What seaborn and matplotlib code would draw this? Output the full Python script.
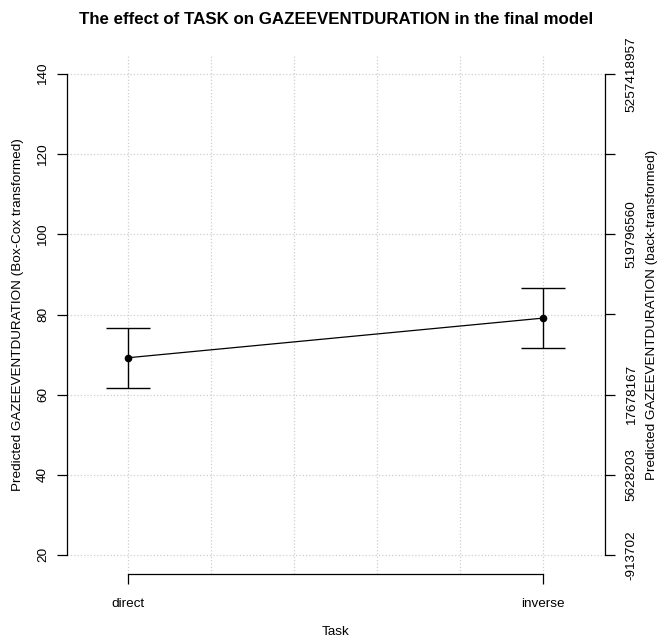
import numpy as np
import pandas as pd
import matplotlib
matplotlib.use("Agg")
import matplotlib.pyplot as plt
import seaborn as sns

# data
tasks = ["direct", "inverse"]
task_pos = [1, 2]
fit = [69.2, 79.1]
lower = [61.7, 71.6]
upper = [76.7, 86.5]

left_ticks = [20, 40, 60, 80, 100, 120, 140]
right_labels = ["-913702", "5628203", "17678167", "", "519796560", "", "5257418957"]

sns.set_style("ticks")
plt.rcParams["font.family"] = ["Liberation Sans", "DejaVu Sans"]
plt.rcParams["text.color"] = "black"
plt.rcParams["axes.labelcolor"] = "black"
plt.rcParams["xtick.labelcolor"] = "black"
plt.rcParams["ytick.labelcolor"] = "black"

df = pd.DataFrame({"pos": task_pos, "fit": fit, "lo": lower, "hi": upper})

fig = plt.figure(figsize=(6.63, 6.40), dpi=100)
ax = fig.add_axes([67 / 663, 1 - 574 / 640, (605 - 67) / 663, (574 - 55) / 640])

# grid (dotted, like R's grid())
ax.set_xticks(np.arange(1, 2.01, 0.2), minor=True)
ax.grid(True, which="both", axis="x", linestyle=":", color="#cfcfcf", linewidth=0.9)
ax.grid(True, which="major", axis="y", linestyle=":", color="#cfcfcf", linewidth=0.9)
ax.set_axisbelow(True)

# confidence intervals
ax.errorbar(df["pos"], df["fit"], yerr=[df["fit"] - df["lo"], df["hi"] - df["fit"]],
            fmt="none", ecolor="black", elinewidth=1.0, capsize=15.5, capthick=1.0)
sns.lineplot(data=df, x="pos", y="fit", ax=ax, color="black", linewidth=0.9,
             marker="o", markersize=5.5, markeredgewidth=0)

ax.set_xlim(0.853, 2.149)
ax.set_ylim(15.2, 144.8)
ax.set_xticks(task_pos)
ax.set_xticklabels(tasks)
ax.set_yticks(left_ticks)
ax.set_yticklabels([str(v) for v in left_ticks])

for s in ["top", "right"]:
    ax.spines[s].set_visible(False)
ax.spines["left"].set_bounds(20, 140)
ax.spines["bottom"].set_bounds(1, 2)
for s in ["left", "bottom"]:
    ax.spines[s].set_linewidth(0.9)
    ax.spines[s].set_color("black")

ax.tick_params(axis="x", which="major", length=7, width=0.9, pad=10, labelsize=9.7,
               color="black", labelcolor="black")
ax.tick_params(axis="x", which="minor", length=0)
ax.tick_params(axis="y", length=7, width=0.9, pad=6, labelsize=9.7, labelrotation=90,
               color="black", labelcolor="black")
for lab in ax.get_yticklabels():
    lab.set_va("center")

ax.set_xlabel("Task", fontsize=9.7, labelpad=12, color="black")
ax.set_ylabel("Predicted GAZEEVENTDURATION (Box-Cox transformed)", fontsize=9.7,
              labelpad=9, color="black")

# right axis: back-transformed values
ax2 = ax.twinx()
ax2.set_ylim(ax.get_ylim())
ax2.set_yticks(left_ticks)
ax2.set_yticklabels(right_labels)
for s in ["top", "left", "bottom"]:
    ax2.spines[s].set_visible(False)
ax2.spines["right"].set_bounds(20, 140)
ax2.spines["right"].set_linewidth(0.9)
ax2.spines["right"].set_color("black")
ax2.tick_params(axis="y", length=7, width=0.9, pad=8, labelsize=9.7, labelrotation=90,
                color="black", labelcolor="black")
for lab in ax2.get_yticklabels():
    lab.set_va("center")
ax2.set_ylabel("Predicted GAZEEVENTDURATION (back-transformed)", fontsize=9.7,
               labelpad=6, color="black")
ax2.grid(False)

fig.text((67 + 605) / 2 / 663, 1 - 20 / 640,
         "The effect of TASK on GAZEEVENTDURATION in the final model",
         ha="center", va="center", fontsize=12.2, fontweight="bold", color="black")

fig.savefig("out.png", dpi=100)
